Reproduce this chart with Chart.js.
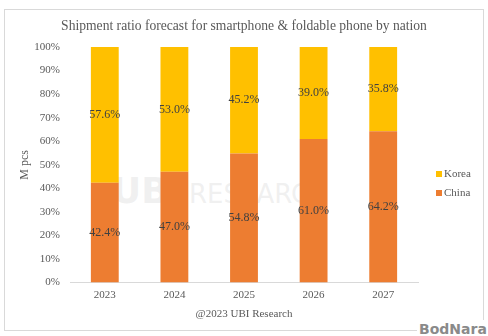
<!DOCTYPE html>
<html>
<head>
<meta charset="utf-8">
<script src="https://cdn.jsdelivr.net/npm/chart.js@4/dist/chart.umd.min.js"></script>
<style>
  html, body { margin: 0; padding: 0; background: #fff; }
  #wrap { position: relative; width: 488px; height: 336px; overflow: hidden; }
  #frame { position: absolute; left: 4px; top: 9px; width: 478px; height: 320px; border: 1px solid #d9d9d9; }
  #mark { position: absolute; left: 112px; top: 170px; font: bold 36px "DejaVu Sans", sans-serif; color: rgba(205,205,205,0.3); white-space: nowrap; }
  #mark span { font-weight: normal; font-size: 26px; margin-left: 8px; }
  #logo { position: absolute; left: 417px; top: 320px; width: 71px; height: 16px; background: #fff;
          font: bold 14px "DejaVu Sans", sans-serif; color: #8a8a8a; line-height: 18px; padding-left: 2px; }
  canvas { position: absolute; left: 0; top: 0; }
</style>
</head>
<body>
<div id="wrap">
  <div id="frame"></div>
  <div id="mark">UBi<span>RESEARCH</span></div>
  <canvas id="myChart" width="488" height="336"></canvas>
  <div id="logo">BodNara</div>
</div>
<script>
const years = ['2023', '2024', '2025', '2026', '2027'];
const chinaShare = [42.4, 47.0, 54.8, 61.0, 64.2];
const koreaShare = [57.6, 53.0, 45.2, 39.0, 35.8];
const chartTitle = 'Shipment ratio forecast for smartphone & foldable phone by nation';

const serif = '"Liberation Serif", "Times New Roman", serif';

// title centred on the whole frame, not on the plot
const frameTitle = {
    id: 'frameTitle',
    afterDraw(chart) {
        const ctx = chart.ctx;
        ctx.save();
        ctx.font = '13.6px ' + serif;
        ctx.fillStyle = '#595959';
        ctx.textAlign = 'center';
        ctx.textBaseline = 'middle';
        ctx.fillText(chartTitle, 244, 26);
        ctx.restore();
    }
};

// labels in the middle of each bar segment
const barLabels = {
    id: 'barLabels',
    afterDatasetsDraw(chart) {
        const ctx = chart.ctx;
        ctx.save();
        ctx.font = '12px ' + serif;
        ctx.fillStyle = '#404040';
        ctx.textAlign = 'center';
        ctx.textBaseline = 'middle';
        chart.data.datasets.forEach((ds, i) => {
            chart.getDatasetMeta(i).data.forEach((bar, j) => {
                ctx.fillText(ds.data[j].toFixed(1) + '%', bar.x, (bar.y + bar.base) / 2);
            });
        });
        ctx.restore();
    }
};

// legend on the right, Korea on top
const sideLegend = {
    id: 'sideLegend',
    afterDraw(chart) {
        const ctx = chart.ctx;
        ctx.save();
        ctx.font = '11px ' + serif;
        ctx.textBaseline = 'middle';
        ctx.textAlign = 'left';
        const items = chart.data.datasets.slice().reverse();
        items.forEach((ds, k) => {
            const y = 174 + k * 19;
            ctx.fillStyle = ds.backgroundColor;
            ctx.fillRect(436, y - 3, 6, 6);
            ctx.fillStyle = '#595959';
            ctx.fillText(ds.label, 444, y);
        });
        ctx.restore();
    }
};

const ctx = document.getElementById('myChart').getContext('2d');
new Chart(ctx, {
    type: 'bar',
    data: {
        labels: years,
        datasets: [{
            label: 'China',
            data: chinaShare,
            backgroundColor: '#ED7D31',
            barPercentage: 0.4,
            categoryPercentage: 1.0
        }, {
            label: 'Korea',
            data: koreaShare,
            backgroundColor: '#FFC000',
            barPercentage: 0.4,
            categoryPercentage: 1.0
        }]
    },
    options: {
        responsive: false,
        animation: false,
        devicePixelRatio: 1,
        layout: {
            padding: { left: 14, right: 70, top: 47, bottom: 15 }
        },
        plugins: {
            legend: { display: false },
            tooltip: { enabled: false },
            title: { display: false }
        },
        scales: {
            x: {
                stacked: true,
                grid: { display: false, drawTicks: false },
                border: { display: true, color: '#d9d9d9', width: 1 },
                ticks: {
                    color: '#595959',
                    font: { family: serif, size: 11 },
                    padding: 6
                },
                title: {
                    display: true,
                    text: '@2023 UBI Research',
                    color: '#595959',
                    font: { family: serif, size: 11 },
                    padding: { top: 0, bottom: 0 }
                }
            },
            y: {
                stacked: true,
                min: 0,
                max: 100,
                afterFit(scale) { scale.width = 56; },
                grid: { display: false, drawTicks: false },
                border: { display: false },
                ticks: {
                    stepSize: 10,
                    color: '#595959',
                    font: { family: serif, size: 11 },
                    padding: 10,
                    callback: v => v + '%'
                },
                title: {
                    display: true,
                    text: 'M pcs',
                    color: '#595959',
                    font: { family: serif, size: 12 },
                    padding: { top: 4, bottom: 0 }
                }
            }
        }
    },
    plugins: [barLabels, sideLegend, frameTitle]
});
</script>
</body>
</html>
